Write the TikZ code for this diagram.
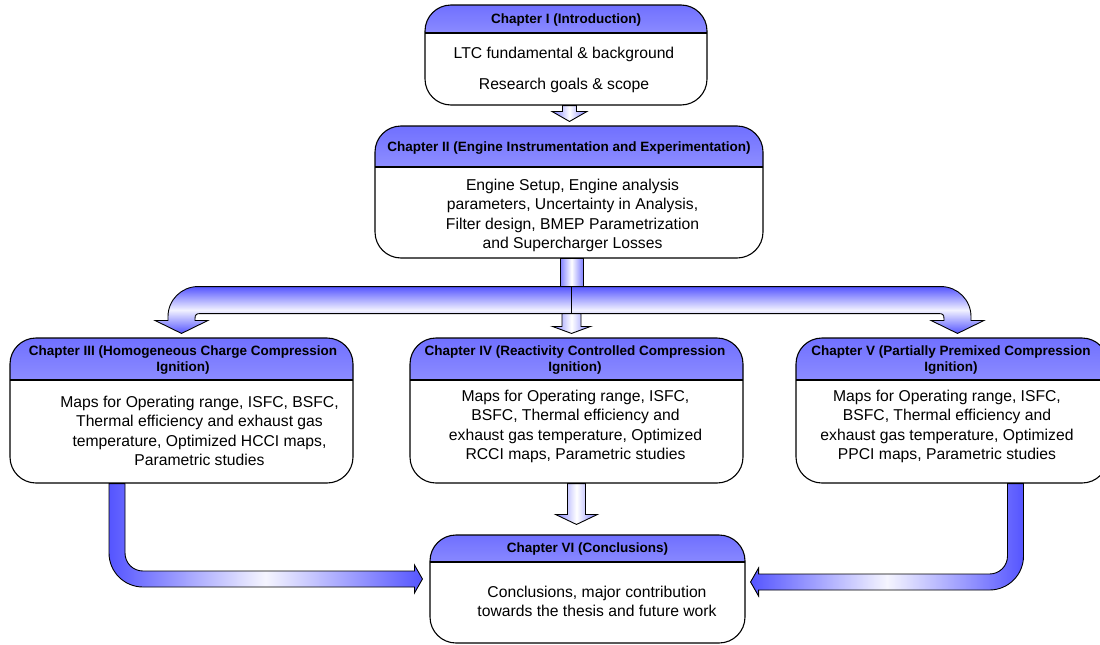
\documentclass[tikz,border=0pt]{standalone}
\usepackage{fontspec}
\setmainfont{Liberation Sans}
\usetikzlibrary{calc}

\definecolor{arrowblue}{RGB}{85,85,255}
\definecolor{headtop}{RGB}{112,112,255}
\definecolor{headbot}{RGB}{208,208,255}

% block arrow going straight down: from, to, half shaft, half head, head length
\newcommand\downblock[5]{%
  \path[shaftshade] let \p1=(#1), \p2=(#2) in
    (\x1-#3,\y1) -- (\x1+#3,\y1) -- (\x1+#3,\y2+#5) -- (\x1+#4,\y2+#5)
    -- (\x1,\y2) -- (\x1-#4,\y2+#5) -- (\x1-#3,\y2+#5) -- cycle;}

\begin{document}
\begin{tikzpicture}[x=1pt,y=1pt,
    chapbox/.style={draw=black, line width=1.1pt, fill=white, rounded corners=26pt,
      inner sep=0pt, path picture={
        \shade[sharp corners, top color=headtop, bottom color=headbot]
          (path picture bounding box.north west) rectangle ([yshift=-#1]path picture bounding box.north east);
        \draw[sharp corners, line width=1.1pt] ([yshift=-#1]path picture bounding box.north west)
          -- ([yshift=-#1]path picture bounding box.north east);}},
    headtxt/.style={font=\fontsize{13.5}{16}\selectfont\bfseries, align=center, inner sep=0pt},
    bodytxt/.style={font=\fontsize{15.7}{19.5}\selectfont, align=center, inner sep=0pt},
    shaftshade/.style={draw=black, line width=0.9pt, left color=arrowblue!75!white,
      right color=arrowblue!75!white, middle color=white},
    bandshade/.style={draw=black, line width=0.9pt, top color=arrowblue, bottom color=arrowblue,
      middle color=white!92!arrowblue},
    ellshade/.style={draw=black, line width=0.9pt, left color=arrowblue, right color=arrowblue,
      middle color=white!94!arrowblue}]
\useasboundingbox (0,0) rectangle (1100,-645);

% chapter boxes
\node[chapbox=28pt, minimum width=282pt, minimum height=100pt] (chI) at (566,-55) {};
\node[chapbox=41pt, minimum width=388pt, minimum height=132pt] (chII) at (569,-192) {};
\node[chapbox=42pt, minimum width=343pt, minimum height=145pt] (chIII) at (181.5,-410.5) {};
\node[chapbox=42pt, minimum width=333pt, minimum height=145pt] (chIV) at (576.5,-410.5) {};
\node[chapbox=42pt, minimum width=312pt, minimum height=145pt] (chV) at (952,-410.5) {};
\node[chapbox=27pt, minimum width=315pt, minimum height=108pt] (chVI) at (587.5,-589) {};

% headers
\node[headtxt] (chIhd) at ([yshift=-16pt]chI.north) {Chapter I (Introduction)};
\node[headtxt] (chIIhd) at ([yshift=-23pt]chII.north) {Chapter II (Engine Instrumentation and Experimentation)};
\node[headtxt] (chIIIhd) at ([xshift=1.5pt,yshift=-23pt]chIII.north) {Chapter III (Homogeneous Charge Compression\\Ignition)};
\node[headtxt] (chIVhd) at ([xshift=-1.5pt,yshift=-23pt]chIV.north) {Chapter IV (Reactivity Controlled Compression\\Ignition)};
\node[headtxt] (chVhd) at ([xshift=-1pt,yshift=-23pt]chV.north) {Chapter V (Partially Premixed Compression\\Ignition)};
\node[headtxt] (chVIhd) at ([yshift=-15pt]chVI.north) {Chapter VI (Conclusions)};

% body texts
\node[bodytxt] (chItx) at ([xshift=-2pt,yshift=-14.5pt]chI.center) {LTC fundamental \& background\\[11.5pt]Research goals \& scope};
\node[bodytxt] (chIItx) at ([xshift=3.5pt,yshift=-23.5pt]chII.center) {Engine Setup, Engine analysis\\parameters, Uncertainty in Analysis,\\Filter design, BMEP Parametrization\\and Supercharger Losses};
\node[bodytxt] (chIIItx) at ([xshift=18pt,yshift=-20.5pt]chIII.center) {Maps for Operating range, ISFC, BSFC,\\Thermal efficiency and exhaust gas\\temperature, Optimized HCCI maps,\\Parametric studies};
\node[bodytxt] (chIVtx) at ([xshift=-1pt,yshift=-16pt]chIV.center) {Maps for Operating range, ISFC,\\BSFC, Thermal efficiency and\\exhaust gas temperature, Optimized\\RCCI maps, Parametric studies};
\node[bodytxt] (chVtx) at ([xshift=-5pt,yshift=-16pt]chV.center) {Maps for Operating range, ISFC,\\BSFC, Thermal efficiency and\\exhaust gas temperature, Optimized\\PPCI maps, Parametric studies};
\node[bodytxt] (chVItx) at ([xshift=9.5pt,yshift=-12.5pt]chVI.center) {Conclusions, major contribution\\towards the thesis and future work};

% arrows
\downblock{[xshift=3.5pt]chI.south}{[xshift=3.5pt,yshift=4pt]chII.north}{7pt}{17.5pt}{10pt}
\coordinate (fork) at ([xshift=2.5pt,yshift=-28pt]chII.south);
\path[shaftshade] let \p1=(fork), \p2=(chII.south) in (\x1-11.5pt,\y2) rectangle (\x1+11.5pt,\y1);
% left branch
\path[bandshade] let \p1=(fork), \p2=(chIII.north) in
  (\x1,\y1) -- (\x2+16.5pt,\y1) .. controls (\x2,\y1) and (\x2-13.5pt,\y1-13.4pt) .. (\x2-13.5pt,\y1-30pt)
  -- (\x2-13.5pt,\y2+17pt) -- (\x2-26.5pt,\y2+17pt) -- (\x2,\y2+4pt) -- (\x2+26.5pt,\y2+17pt)
  -- (\x2+13.5pt,\y2+17pt) -- (\x2+13.5pt,\y1-32pt) .. controls (\x2+13.5pt,\y1-28pt) and (\x2+15pt,\y1-27pt) .. (\x2+19pt,\y1-27pt)
  -- (\x1,\y1-27pt) -- cycle;
% right branch
\path[bandshade] let \p1=(fork), \p2=([xshift=5.5pt]chV.north) in
  (\x1,\y1) -- (\x2-16.5pt,\y1) .. controls (\x2,\y1) and (\x2+13.5pt,\y1-13.4pt) .. (\x2+13.5pt,\y1-30pt)
  -- (\x2+13.5pt,\y2+17pt) -- (\x2+26.5pt,\y2+17pt) -- (\x2,\y2+4pt) -- (\x2-26.5pt,\y2+17pt)
  -- (\x2-13.5pt,\y2+17pt) -- (\x2-13.5pt,\y1-32pt) .. controls (\x2-13.5pt,\y1-28pt) and (\x2-15pt,\y1-27pt) .. (\x2-19pt,\y1-27pt)
  -- (\x1,\y1-27pt) -- cycle;
\downblock{[yshift=-27pt]fork}{[yshift=4pt]chIV.north}{9.5pt}{19pt}{7pt}
\downblock{chIV.south}{[yshift=10pt]chVI.north}{9pt}{21pt}{10pt}
% elbows into the conclusions
\path[ellshade] let \p1=([xshift=-64.5pt]chIII.south), \p2=([xshift=-7pt,yshift=10pt]chVI.west) in
  (\x1-8pt,\y1) -- (\x1-8pt,\y2+26pt) .. controls (\x1-8pt,\y2+7.2pt) and (\x1+7.2pt,\y2-8pt) .. (\x1+26pt,\y2-8pt)
  -- (\x2-8pt,\y2-8pt) -- (\x2-8pt,\y2-14pt) -- (\x2,\y2) -- (\x2-8pt,\y2+14pt) -- (\x2-8pt,\y2+8pt)
  -- (\x1+26pt,\y2+8pt) .. controls (\x1+16pt,\y2+8pt) and (\x1+8pt,\y2+16pt) .. (\x1+8pt,\y2+26pt)
  -- (\x1+8pt,\y1) -- cycle;
\path[ellshade] let \p1=([xshift=63.5pt]chV.south), \p2=([xshift=5pt,yshift=7pt]chVI.east) in
  (\x1+8pt,\y1) -- (\x1+8pt,\y2+26pt) .. controls (\x1+8pt,\y2+7.2pt) and (\x1-7.2pt,\y2-8pt) .. (\x1-26pt,\y2-8pt)
  -- (\x2+8pt,\y2-8pt) -- (\x2+8pt,\y2-14pt) -- (\x2,\y2) -- (\x2+8pt,\y2+14pt) -- (\x2+8pt,\y2+8pt)
  -- (\x1-26pt,\y2+8pt) .. controls (\x1-16pt,\y2+8pt) and (\x1-8pt,\y2+16pt) .. (\x1-8pt,\y2+26pt)
  -- (\x1-8pt,\y1) -- cycle;
\end{tikzpicture}
\end{document}
